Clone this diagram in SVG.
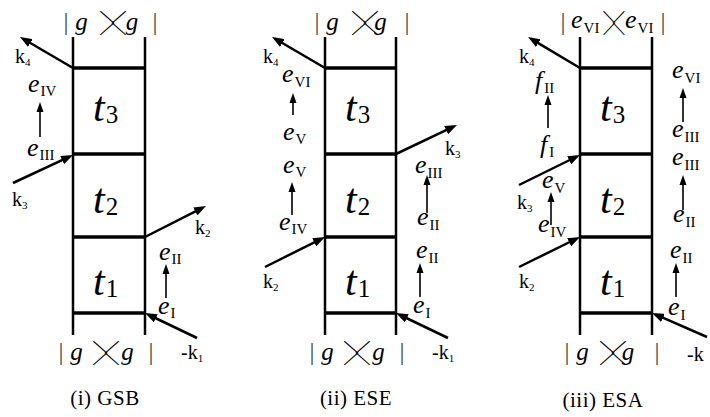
<svg xmlns="http://www.w3.org/2000/svg" width="710" height="417" viewBox="0 0 710 417">
<style>
text{fill:#000}
.ln{stroke:#000;stroke-width:2.5;fill:none}
.hz{stroke:#000;stroke-width:3.5;fill:none}
.ar{stroke:#000;stroke-width:2.5;fill:none;marker-end:url(#ah)}
.as{stroke:#000;stroke-width:1.6;fill:none;marker-end:url(#as)}
.e{font-style:italic;font-size:26px}
.s{font-style:normal;font-size:15px}
.k{font-size:20px}
.ks{font-size:11px}
.t{font-style:italic;font-size:42px}
.ts{font-style:normal;font-size:25px}
.bk{font-size:25px;text-anchor:middle}
.bar{fill:#444}
.gi{font-style:italic}
.br{font-family:"Noto Sans CJK JP","Noto Sans CJK SC",sans-serif;font-size:26px;font-weight:100;text-anchor:middle}
.cap{font-size:21px;letter-spacing:0.5px;text-anchor:middle}
</style>
<defs>
<marker id="ah" markerUnits="userSpaceOnUse" markerWidth="12" markerHeight="9" refX="4" refY="4.5" orient="auto"><path d="M0,0L12,4.5L0,9z" fill="#000"/></marker>
<marker id="as" markerUnits="userSpaceOnUse" markerWidth="10" markerHeight="8" refX="4" refY="4" orient="auto"><path d="M0,0.5L10,4L0,7.5z" fill="#000"/></marker>
</defs>
<g font-family="Liberation Serif, Times New Roman, serif">
<!-- Panel 1: GSB -->
<g id="panel1">
  <g id="p1-ladder">
    <line class="ln" x1="73" y1="37" x2="73" y2="335"/>
    <line class="ln" x1="145" y1="37" x2="145" y2="335"/>
    <line class="hz" x1="73" y1="68" x2="145" y2="68"/>
    <line class="hz" x1="73" y1="154" x2="145" y2="154"/>
    <line class="hz" x1="73" y1="237" x2="145" y2="237"/>
    <line class="hz" x1="73" y1="313" x2="145" y2="313"/>
  </g>
  <g id="p1-t3"><text class="t" x="93" y="121">t<tspan class="ts" dx="1" dy="2">3</tspan></text></g>
  <g id="p1-t2"><text class="t" x="93" y="213">t<tspan class="ts" dx="1" dy="2">2</tspan></text></g>
  <g id="p1-t1"><text class="t" x="93" y="295">t<tspan class="ts" dx="1" dy="2">1</tspan></text></g>
  <g id="p1-top">
    <text class="bk" y="30"><tspan class="bar" x="66">|</tspan><tspan class="gi" x="81.5">g</tspan><tspan class="gi" x="132">g</tspan><tspan class="bar" x="155">|</tspan></text>
    <text class="br" transform="translate(113,33) scale(1.7,1)"><tspan x="3.9">〉</tspan><tspan x="-3.9">〈</tspan></text>
  </g>
  <g id="p1-bottom">
    <text class="bk" y="360"><tspan class="bar" x="61">|</tspan><tspan class="gi" x="76.5">g</tspan><tspan class="gi" x="127.5">g</tspan><tspan class="bar" x="151">|</tspan></text>
    <text class="br" transform="translate(106,363) scale(1.7,1)"><tspan x="3.9">〉</tspan><tspan x="-3.9">〈</tspan></text>
  </g>
  <g id="p1-labels">
    <text class="k" x="15" y="63">k<tspan class="ks" dy="3">4</tspan></text>
    <text class="e" x="28" y="92">e<tspan class="s" dx="1" dy="4">IV</tspan></text>
    <text class="e" x="27" y="156">e<tspan class="s" dx="1" dy="4">III</tspan></text>
    <text class="k" x="12" y="206">k<tspan class="ks" dy="3">3</tspan></text>
    <text class="k" x="195" y="234">k<tspan class="ks" dy="3">2</tspan></text>
    <text class="e" x="159" y="260">e<tspan class="s" dx="1" dy="4">II</tspan></text>
    <text class="e" x="158" y="314">e<tspan class="s" dx="1" dy="4">I</tspan></text>
    <text class="k" x="181" y="359">-k<tspan class="ks" dy="3">1</tspan></text>
    <text class="cap" x="105" y="405">(i) GSB</text>
  </g>
</g>

<!-- Panel 2: ESE -->
<g id="panel2">
  <g id="p2-ladder">
    <line class="ln" x1="325" y1="37" x2="325" y2="335"/>
    <line class="ln" x1="396" y1="37" x2="396" y2="335"/>
    <line class="hz" x1="325" y1="68" x2="396" y2="68"/>
    <line class="hz" x1="325" y1="154" x2="396" y2="154"/>
    <line class="hz" x1="325" y1="237" x2="396" y2="237"/>
    <line class="hz" x1="325" y1="313" x2="396" y2="313"/>
  </g>
  <g id="p2-t3"><text class="t" x="345" y="121">t<tspan class="ts" dx="1" dy="2">3</tspan></text></g>
  <g id="p2-t2"><text class="t" x="345" y="213">t<tspan class="ts" dx="1" dy="2">2</tspan></text></g>
  <g id="p2-t1"><text class="t" x="345" y="295">t<tspan class="ts" dx="1" dy="2">1</tspan></text></g>
  <g id="p2-top">
    <text class="bk" y="30"><tspan class="bar" x="317">|</tspan><tspan class="gi" x="332.5">g</tspan><tspan class="gi" x="380.5">g</tspan><tspan class="bar" x="407">|</tspan></text>
    <text class="br" transform="translate(365,33) scale(1.7,1)"><tspan x="3.9">〉</tspan><tspan x="-3.9">〈</tspan></text>
  </g>
  <g id="p2-bottom">
    <text class="bk" y="360"><tspan class="bar" x="312">|</tspan><tspan class="gi" x="327.5">g</tspan><tspan class="gi" x="378.5">g</tspan><tspan class="bar" x="402">|</tspan></text>
    <text class="br" transform="translate(357,363) scale(1.7,1)"><tspan x="3.9">〉</tspan><tspan x="-3.9">〈</tspan></text>
  </g>
  <g id="p2-labels">
    <text class="k" x="263" y="63">k<tspan class="ks" dy="3">4</tspan></text>
    <text class="e" x="282" y="82">e<tspan class="s" dx="1" dy="5">VI</tspan></text>
    <text class="e" x="283" y="140">e<tspan class="s" dx="1" dy="4">V</tspan></text>
    <text class="e" x="283" y="173">e<tspan class="s" dx="1" dy="4">V</tspan></text>
    <text class="e" x="279" y="230">e<tspan class="s" dx="1" dy="4">IV</tspan></text>
    <text class="k" x="263" y="288">k<tspan class="ks" dy="3">2</tspan></text>
    <text class="k" x="445" y="155">k<tspan class="ks" dy="3">3</tspan></text>
    <text class="e" x="415" y="173">e<tspan class="s" dx="1" dy="5">III</tspan></text>
    <text class="e" x="417" y="225">e<tspan class="s" dx="1" dy="5">II</tspan></text>
    <text class="e" x="416" y="258">e<tspan class="s" dx="1" dy="5">II</tspan></text>
    <text class="e" x="413" y="313">e<tspan class="s" dx="1" dy="5">I</tspan></text>
    <text class="k" x="432" y="359">-k<tspan class="ks" dy="3">1</tspan></text>
    <text class="cap" x="356" y="405">(ii) ESE</text>
  </g>
</g>

<!-- Panel 3: ESA -->
<g id="panel3">
  <g id="p3-ladder">
    <line class="ln" x1="580" y1="37" x2="580" y2="335"/>
    <line class="ln" x1="652" y1="37" x2="652" y2="335"/>
    <line class="hz" x1="580" y1="68" x2="652" y2="68"/>
    <line class="hz" x1="580" y1="154" x2="652" y2="154"/>
    <line class="hz" x1="580" y1="237" x2="652" y2="237"/>
    <line class="hz" x1="580" y1="313" x2="652" y2="313"/>
  </g>
  <g id="p3-t3"><text class="t" x="600" y="121">t<tspan class="ts" dx="1" dy="2">3</tspan></text></g>
  <g id="p3-t2"><text class="t" x="600" y="213">t<tspan class="ts" dx="1" dy="2">2</tspan></text></g>
  <g id="p3-t1"><text class="t" x="600" y="295">t<tspan class="ts" dx="1" dy="2">1</tspan></text></g>
  <g id="p3-top">
    <text class="bk" y="30"><tspan class="bar" x="563">|</tspan><tspan class="bar" x="663">|</tspan></text>
    <text class="br" transform="translate(614,33) scale(1.4,1)"><tspan x="3.9">〉</tspan><tspan x="-3.9">〈</tspan></text>
    <text class="e" x="571" y="28">e<tspan class="s" dx="1" dy="5">VI</tspan></text>
    <text class="e" x="625" y="28">e<tspan class="s" dx="1" dy="5">VI</tspan></text>
  </g>
  <g id="p3-bottom">
    <text class="bk" y="360"><tspan class="bar" x="567">|</tspan><tspan class="gi" x="582.5">g</tspan><tspan class="gi" x="628">g</tspan><tspan class="bar" x="657">|</tspan></text>
    <text class="br" transform="translate(613,363) scale(1.7,1)"><tspan x="3.9">〉</tspan><tspan x="-3.9">〈</tspan></text>
  </g>
  <g id="p3-labels">
    <text class="k" x="519" y="63">k<tspan class="ks" dy="3">4</tspan></text>
    <text class="e" x="535" y="89">f<tspan class="s" dx="2" dy="4">II</tspan></text>
    <text class="e" x="540" y="153">f<tspan class="s" dx="2" dy="4">I</tspan></text>
    <text class="e" x="542" y="188">e<tspan class="s" dx="1" dy="5">V</tspan></text>
    <text class="k" x="517" y="209">k<tspan class="ks" dy="3">3</tspan></text>
    <text class="e" x="538" y="232">e<tspan class="s" dx="1" dy="5">IV</tspan></text>
    <text class="k" x="519" y="288">k<tspan class="ks" dy="3">2</tspan></text>
    <text class="e" x="672" y="78">e<tspan class="s" dx="1" dy="5">VI</tspan></text>
    <text class="e" x="672" y="137">e<tspan class="s" dx="1" dy="5">III</tspan></text>
    <text class="e" x="672" y="165">e<tspan class="s" dx="1" dy="5">III</tspan></text>
    <text class="e" x="673" y="222">e<tspan class="s" dx="1" dy="5">II</tspan></text>
    <text class="e" x="670" y="258">e<tspan class="s" dx="1" dy="5">II</tspan></text>
    <text class="e" x="668" y="315">e<tspan class="s" dx="1" dy="5">I</tspan></text>
    <text class="k" x="687" y="361">-k</text>
    <text class="cap" x="603" y="407">(iii) ESA</text>
  </g>
</g>
</g>
<!-- Connectors -->
<g id="connectors">
  <line class="ar" x1="73" y1="68" x2="26.9" y2="41.0"/>
  <line class="ar" x1="13" y1="183" x2="65.8" y2="158.4"/>
  <line class="ar" x1="145" y1="237" x2="198.9" y2="209.6"/>
  <line class="ar" x1="197" y1="338" x2="152.2" y2="316.5"/>
  <line class="as" x1="40" y1="137" x2="40" y2="108"/>
  <line class="as" x1="166" y1="298" x2="166" y2="270"/>

  <line class="ar" x1="325" y1="68" x2="278.9" y2="41.0"/>
  <line class="ar" x1="396" y1="154" x2="449.8" y2="128.4"/>
  <line class="ar" x1="265" y1="267" x2="317.8" y2="240.6"/>
  <line class="ar" x1="448" y1="338" x2="403.2" y2="316.5"/>
  <line class="as" x1="293" y1="115" x2="293" y2="99"/>
  <line class="as" x1="292" y1="215" x2="292" y2="188"/>
  <line class="as" x1="427" y1="213" x2="427" y2="181"/>
  <line class="as" x1="420" y1="297" x2="420" y2="269"/>

  <line class="ar" x1="580" y1="68" x2="534.9" y2="41.1"/>
  <line class="ar" x1="519" y1="185" x2="572.8" y2="158.5"/>
  <line class="ar" x1="519" y1="267" x2="572.8" y2="240.5"/>
  <line class="ar" x1="707" y1="337" x2="659.3" y2="316.2"/>
  <line class="as" x1="548" y1="128" x2="548" y2="101"/>
  <line class="as" x1="551" y1="225" x2="551" y2="198"/>
  <line class="as" x1="683" y1="122" x2="683" y2="94"/>
  <line class="as" x1="683" y1="210" x2="683" y2="181"/>
  <line class="as" x1="676" y1="297" x2="676" y2="269"/>
</g>
</svg>
